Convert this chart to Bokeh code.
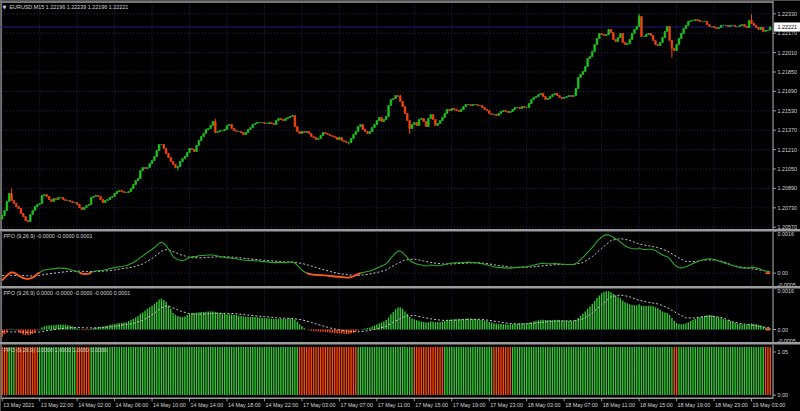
import numpy as np
from bokeh.plotting import figure
from bokeh.models import Range1d, Label, ColumnDataSource
from bokeh.layouts import column
from bokeh.embed import file_html
from bokeh.resources import INLINE
from bokeh.core.properties import value

try:
    from bokeh.models import GlobalInlineStyleSheet
except Exception:
    GlobalInlineStyleSheet = None

# ---------------- data ----------------
symbol_title = "EURUSD,M15  1.22196 1.22239 1.22196 1.22221"
ppo_title2 = "PPO (9,26,9) -0.0000 -0.0000 0.0001"
ppo_title3 = "PPO (9,26,9) 0.0000 -0.0000 -0.0000 -0.0000 0.0001"
ppo_title4 = "PPO (9,26,9) 0.0000 1.0000 1.0000 0.0000"
bid_price = 1.22221

time_labels = ["13 May 2021", "13 May 22:00", "14 May 02:00", "14 May 06:00", "14 May 10:00",
               "14 May 14:00", "14 May 18:00", "14 May 22:00", "17 May 03:00", "17 May 07:00",
               "17 May 11:00", "17 May 15:00", "17 May 19:00", "17 May 23:00", "18 May 03:00",
               "18 May 07:00", "18 May 11:00", "18 May 15:00", "18 May 19:00", "18 May 23:00",
               "19 May 03:00"]
time_label_bars = [0, 16, 32, 48, 64, 80, 96, 112, 128, 144, 160, 176, 192, 208, 224,
                   240, 256, 272, 288, 304, 320]

price_ticks = [1.20570, 1.20730, 1.20890, 1.21050, 1.21210, 1.21370, 1.21530,
               1.21690, 1.21850, 1.22010, 1.22170, 1.22330]
ppo_ticks = [0.0016, 0.0, -0.0005]
ppo_tick_labels = ["0.0016", "0.00", "-0.0005"]
state_ticks = [1.05, 0.0]
state_tick_labels = ["1.05", "0.00"]

first_open = 1.20640
closes = [
    1.20666, 1.20707, 1.20782, 1.20848, 1.20790, 1.20765, 1.20740, 1.20724, 1.20683, 1.20658,
    1.20625, 1.20617, 1.20674, 1.20707, 1.20740, 1.20757, 1.20765, 1.20831, 1.20839, 1.20823,
    1.20798, 1.20782, 1.20806, 1.20798, 1.20815, 1.20815, 1.20798, 1.20790, 1.20790, 1.20782,
    1.20773, 1.20773, 1.20757, 1.20732, 1.20716, 1.20732, 1.20749, 1.20757, 1.20815, 1.20823,
    1.20831, 1.20823, 1.20798, 1.20773, 1.20790, 1.20798, 1.20815, 1.20823, 1.20848, 1.20864,
    1.20872, 1.20864, 1.20856, 1.20856, 1.20864, 1.20889, 1.20922, 1.20955, 1.20971, 1.21037,
    1.21062, 1.21054, 1.21062, 1.21095, 1.21120, 1.21153, 1.21202, 1.21252, 1.21252, 1.21219,
    1.21178, 1.21145, 1.21112, 1.21087, 1.21062, 1.21070, 1.21112, 1.21136, 1.21153, 1.21186,
    1.21219, 1.21211, 1.21194, 1.21244, 1.21285, 1.21318,
    1.21343, 1.21376, 1.21384, 1.21409, 1.21442, 1.21351, 1.21359, 1.21367, 1.21367, 1.21376,
    1.21409, 1.21417, 1.21384, 1.21367, 1.21359, 1.21359, 1.21351, 1.21334, 1.21351, 1.21376,
    1.21392, 1.21417, 1.21425, 1.21433, 1.21433, 1.21433, 1.21425, 1.21425, 1.21433, 1.21425,
    1.21417, 1.21450, 1.21466, 1.21458, 1.21450, 1.21466, 1.21475, 1.21483, 1.21491, 1.21400,
    1.21359, 1.21343, 1.21359, 1.21351, 1.21359, 1.21343, 1.21318, 1.21310, 1.21293, 1.21301,
    1.21326, 1.21351, 1.21343, 1.21334, 1.21326, 1.21318, 1.21310, 1.21293, 1.21310, 1.21285,
    1.21277, 1.21268, 1.21268, 1.21301, 1.21334, 1.21359, 1.21400, 1.21417, 1.21376, 1.21359,
    1.21343, 1.21359, 1.21392, 1.21417, 1.21450, 1.21475, 1.21442, 1.21458, 1.21483, 1.21574,
    1.21623, 1.21631, 1.21656, 1.21648, 1.21607, 1.21565, 1.21508, 1.21450, 1.21384, 1.21417,
    1.21433, 1.21409, 1.21458, 1.21466, 1.21442, 1.21400, 1.21466, 1.21499, 1.21458, 1.21409,
    1.21425, 1.21450, 1.21475, 1.21508, 1.21541, 1.21532, 1.21549, 1.21541, 1.21532, 1.21524,
    1.21541, 1.21565, 1.21582, 1.21582, 1.21574, 1.21582, 1.21582, 1.21574, 1.21574, 1.21557,
    1.21541, 1.21532, 1.21508, 1.21499, 1.21499, 1.21491, 1.21508, 1.21524, 1.21532, 1.21524,
    1.21516, 1.21524, 1.21541, 1.21557, 1.21557, 1.21549, 1.21565, 1.21557, 1.21557, 1.21590,
    1.21623, 1.21640, 1.21648, 1.21664, 1.21673, 1.21648, 1.21623, 1.21631, 1.21648, 1.21664,
    1.21673, 1.21656, 1.21640, 1.21631, 1.21640, 1.21648, 1.21656, 1.21648, 1.21656, 1.21714,
    1.21805,
    1.21830, 1.21854, 1.21895, 1.21961, 1.21978, 1.22019, 1.22077, 1.22126, 1.22168, 1.22159,
    1.22151, 1.22159, 1.22201, 1.22176, 1.22118, 1.22102, 1.22135, 1.22168, 1.22093, 1.22077,
    1.22085, 1.22118, 1.22168, 1.22201, 1.22225, 1.22308, 1.22143, 1.22143, 1.22159, 1.22168,
    1.22151, 1.22110, 1.22077, 1.22069, 1.22093, 1.22135, 1.22184, 1.22225, 1.22110, 1.22044,
    1.22027, 1.22077, 1.22126, 1.22168, 1.22209, 1.22234, 1.22267, 1.22275, 1.22275, 1.22283,
    1.22275, 1.22267, 1.22267, 1.22267, 1.22242, 1.22225, 1.22225, 1.22217, 1.22209, 1.22217,
    1.22234, 1.22234, 1.22234, 1.22225, 1.22234, 1.22234, 1.22225, 1.22225, 1.22234, 1.22242,
    1.22225, 1.22217, 1.22275, 1.22250, 1.22234, 1.22217, 1.22201, 1.22217, 1.22184, 1.22192,
    1.22196, 1.22221,
]
# notable wick extremes (bar index -> price)
wick_highs = {4: 1.20889, 91: 1.21466, 272: 1.22330, 320: 1.22325, 170: 1.21664}
wick_lows = {11: 1.20609, 75: 1.21037, 174: 1.21340, 286: 1.21970, 148: 1.21252}

# PPO(9,26,9) main value per bar, in units of 1e-5
ppo_x1e5 = [
    -28, -17, -9, -2, 3, 2, -3, -9, -15, -19,
    -21, -22, -20, -17, -11, -3, 2, 8, 12, 14,
    15, 16, 16, 18, 19, 19, 18, 18, 16, 14,
    11, 8, 5, 2, -2, -3, -3, -2, 2, 6,
    8, 9, 10, 11, 13, 15, 18, 19, 21, 23,
    24, 25, 27, 28, 32, 37, 40, 46, 52, 60,
    65, 72, 79, 85, 91, 98, 105, 115, 118, 113,
    105, 92, 79, 63, 56, 52, 49, 48, 50, 55,
    60, 62, 63, 64, 66, 67, 67, 68, 69, 69,
    69, 67, 65, 63, 62, 60, 58, 58, 57, 56,
    55, 53, 52, 50, 49, 48, 48, 48, 47, 47,
    45, 44, 44, 43, 42, 41, 40, 40, 41, 41,
    40, 40, 41, 42, 42, 38, 30, 20, 12, 5,
    0, -3, -5, -6, -7, -8, -8, -9, -9, -10,
    -11, -12, -13, -14, -14, -15, -16, -17, -17, -15,
    -12, -8, -4, 0, 2, 4, 6, 8, 11, 15,
    19, 23, 27, 31, 36, 46, 58, 67, 77, 84,
    84, 79, 69, 60, 48, 42, 39, 35, 33, 31,
    29, 27, 28, 31, 30, 28, 28, 29, 31, 33,
    35, 37, 38, 39, 39, 39, 40, 40, 41, 42,
    41, 40, 40, 39, 37, 36, 34, 32, 29, 27,
    24, 23, 21, 21, 20, 20, 19, 19, 20, 21,
    22, 23, 23, 24, 24, 26, 28, 31, 33, 35,
    37, 37, 36, 36, 36, 36, 37, 36, 36, 34,
    34, 33, 33, 33, 33, 37, 44, 52, 60, 69,
    79, 88, 98, 109, 121, 130, 138, 144, 146, 146,
    142, 136, 130, 125, 119, 111, 104, 100, 96, 94,
    93, 92, 96, 92, 90, 90, 91, 91, 89, 85,
    81, 75, 69, 65, 63, 56, 44, 33, 25, 21,
    20, 21, 24, 28, 32, 37, 40, 44, 47, 50,
    52, 54, 55, 54, 52, 49, 46, 43, 40, 37,
    35, 32, 29, 26, 23, 21, 20, 19, 19, 20,
    23, 22, 20, 18, 15, 11, 8, 6, 5,
]
# signal line read at sampled bars, in units of 1e-5
sig_bars = [0, 4, 8, 12, 16, 20, 24, 28, 32, 36, 40, 44, 48, 52, 56, 60, 64, 68, 70, 72,
            76, 80, 84, 88, 92, 96, 100, 104, 108, 112, 116, 120, 124, 128, 132, 136, 140,
            144, 148, 152, 156, 160, 164, 168, 172, 176, 180, 184, 188, 192, 196, 200, 204,
            208, 212, 216, 220, 224, 228, 232, 236, 240, 244, 248, 252, 256, 260, 264, 268,
            272, 276, 280, 284, 288, 292, 296, 300, 304, 308, 312, 316, 320, 324, 328]
sig_x1e5 = [-9, -9, -9, -11, -9, -3, 2, 6, 8, 6, 6, 8, 12, 18, 23, 35, 56, 83, 90, 86,
            71, 60, 58, 60, 62, 62, 60, 56, 52, 49, 46, 43, 42, 37, 27, 16, 6,
            -2, -7, -9, -5, 2, 12, 33, 50, 54, 46, 39, 35, 35, 37, 39, 39,
            35, 29, 24, 21, 22, 25, 29, 32, 33, 33, 40, 63, 94, 125, 132, 125,
            111, 104, 98, 84, 63, 44, 44, 50, 50, 44, 29, 22, 17, 11, 6]
# bars at the right end where the down buffer sits on the zero line
zero_down_bars = [326, 327, 328]

# bottom panel: runs of bars shown in red (first bar, last bar)
red_runs = [(0, 2), (6, 15), (32, 37), (127, 151), (176, 188), (210, 217), (287, 288), (326, 328)]

# ---------------- styling / layout ----------------
FONT = "Liberation Sans"
FS = "5.4px"
TXT = "#d4d4d4"
GRID = "#2a2a5c"
FRAME = "#9c9c9c"
BULL = "#1fc41f"
BEAR = "#f2460f"
BAR_G = "#35c835"
BAR_R = "#ff4a0a"
PPO_G = "#2aa82a"
PPO_R = "#ff5a1a"
SIG = "#c8c8c8"

BAR_PX = 2.3416           # pixels per bar
PX = 1.0 / BAR_PX         # one pixel in bar units
X0 = -1.7 * PX
X_END = X0 + 800 * PX
X_EDGE = X0 + 772.5 * PX  # right edge of the chart area
X_LEFT = X0 + 0.6 * PX
xr = Range1d(X0, X_END)

N = len(closes)
xs = list(range(N))
opens = [first_open] + closes[:-1]
highs = [max(o, c) for o, c in zip(opens, closes)]
lows = [min(o, c) for o, c in zip(opens, closes)]
for k, v in wick_highs.items():
    highs[k] = max(highs[k], v)
for k, v in wick_lows.items():
    lows[k] = min(lows[k], v)
ccol = [BULL if c >= o else BEAR for o, c in zip(opens, closes)]

ppo = [v * 1e-5 for v in ppo_x1e5]
sig = [v * 1e-5 for v in sig_x1e5]


def make_fig(h, ylo, yhi):
    p = figure(width=800, height=h, x_range=xr, y_range=Range1d(ylo, yhi),
               output_backend="svg", toolbar_location=None,
               x_axis_location=None, y_axis_location=None,
               min_border=0, min_border_left=0, min_border_right=0,
               min_border_top=0, min_border_bottom=0,
               background_fill_color="black", border_fill_color="black",
               outline_line_color=None)
    p.grid.visible = False
    return p


def frame_and_grid(p, lo, hi, hticks):
    p.segment(x0=time_label_bars, x1=time_label_bars, y0=[lo] * len(time_label_bars),
              y1=[hi] * len(time_label_bars), line_color=GRID, line_dash="1 2", line_width=1)
    if hticks:
        p.segment(x0=[X_LEFT] * len(hticks), x1=[X_EDGE] * len(hticks), y0=hticks, y1=hticks,
                  line_color=GRID, line_dash="1 2", line_width=1)
    p.segment(x0=[X_LEFT, X_EDGE], x1=[X_LEFT, X_EDGE], y0=[lo, lo], y1=[hi, hi],
              line_color=FRAME, line_width=1.2)


def right_labels(p, ticks, labels, baselines=None):
    p.segment(x0=[X_EDGE] * len(ticks), x1=[X_EDGE + 3 * PX] * len(ticks), y0=ticks, y1=ticks,
              line_color=FRAME, line_width=1)
    src = ColumnDataSource(dict(x=[X_EDGE + 4.5 * PX] * len(ticks), y=ticks, t=labels,
                                b=baselines or ["middle"] * len(ticks)))
    p.text(x="x", y="y", text="t", text_baseline="b", text_align="left",
           text_font=value(FONT), text_font_size=value(FS), text_color=TXT, source=src)


def title_label(p, yv, text, dy, dx=3):
    p.add_layout(Label(x=X0, y=yv, x_offset=dx, y_offset=dy, text=text,
                       text_font=FONT, text_font_size=FS, text_color=TXT,
                       text_baseline="middle", text_align="left"))


# ---------------- main price panel ----------------
P_PER_PX = 0.0016 / 19.4
P_HI = 1.22330 + 13.3 * P_PER_PX
P_LO = P_HI - 229 * P_PER_PX
p1 = make_fig(229, P_LO, P_HI)
frame_and_grid(p1, P_LO, P_HI, price_ticks)
p1.segment(x0=[X_LEFT], x1=[X_EDGE], y0=[P_HI - 1.5 * P_PER_PX], y1=[P_HI - 1.5 * P_PER_PX],
           line_color=FRAME, line_width=1.5)
p1.segment(x0=[X_LEFT], x1=[X_EDGE], y0=[bid_price], y1=[bid_price], line_color="#1e1e7a",
           line_width=1)
src = ColumnDataSource(dict(x=xs, top=[max(o, c) for o, c in zip(opens, closes)],
                            bot=[min(o, c) for o, c in zip(opens, closes)],
                            hi=highs, lo=lows, col=ccol))
p1.segment(x0="x", y0="lo", x1="x", y1="hi", color="col", line_width=1, source=src)
p1.vbar(x="x", top="top", bottom="bot", width=0.72, fill_color="col", line_color="col",
        line_width=0.6, source=src)
right_labels(p1, price_ticks, [f"{t:.5f}" for t in price_ticks])
# current price box
p1.rect(x=[X_EDGE + 14.5 * PX], y=[bid_price], width=27, height=9, width_units="screen",
        height_units="screen", fill_color="white", line_color="#9a9a9a", line_width=0.5)
p1.text(x=[X_EDGE + 4.5 * PX], y=[bid_price], text=[f"{bid_price:.5f}"], text_baseline="middle",
        text_align="left", text_font=value(FONT), text_font_size=value(FS), text_color="black")
p1.add_layout(Label(x=X0, y=P_HI, x_offset=2, y_offset=-6, text="\u25bc",
                    text_font="DejaVu Sans", text_font_size="5px", text_color=TXT,
                    text_baseline="middle", text_align="left"))
title_label(p1, P_HI, symbol_title, -6, dx=9)

# ---------------- PPO line panel ----------------
Q_PER_PX = 0.0000382
Q2_HI = 41.6 * Q_PER_PX
Q2_LO = -(55 - 41.6) * Q_PER_PX
p2 = make_fig(55, Q2_LO, Q2_HI)
frame_and_grid(p2, Q2_LO, Q2_HI, [0.0])
pv = np.array(ppo)
neg_mask = pv < 0
grow = np.zeros(N, dtype=bool)
for i in range(N):
    if neg_mask[i] or (i > 0 and neg_mask[i - 1]) or (i < N - 1 and neg_mask[i + 1]):
        grow[i] = True
neg_line = np.where(grow, pv, np.nan)
p2.line(sig_bars, sig, line_color=SIG, line_width=1, line_dash="2 2")
p2.line(xs, ppo, line_color=PPO_G, line_width=1.1)
p2.line(xs, neg_line.tolist(), line_color=PPO_R, line_width=1.8)
p2.line(zero_down_bars, [0.0] * len(zero_down_bars), line_color=PPO_R, line_width=1.8)
right_labels(p2, [Q2_HI, 0.0, Q2_LO], ppo_tick_labels, ["top", "middle", "bottom"])
title_label(p2, Q2_HI, ppo_title2, -4)

# ---------------- PPO histogram panel ----------------
Q3_HI = 41 * Q_PER_PX
Q3_LO = -(54 - 41) * Q_PER_PX
p3 = make_fig(54, Q3_LO, Q3_HI)
frame_and_grid(p3, Q3_LO, Q3_HI, [0.0])
hcol = [BAR_G if v >= 0 else BAR_R for v in ppo]
p3.vbar(x=xs, top=ppo, bottom=[0.0] * N, width=0.6, fill_color=hcol, line_color=None)
p3.line(zero_down_bars, [0.0] * len(zero_down_bars), line_color=PPO_R, line_width=1.8)
p3.line(sig_bars, sig, line_color=SIG, line_width=1, line_dash="2 2")
right_labels(p3, [Q3_HI, 0.0, Q3_LO], ppo_tick_labels, ["top", "middle", "bottom"])
title_label(p3, Q3_HI, ppo_title3, -4)

# ---------------- state bars panel + time axis ----------------
S_PER_PX = 1.0 / 48.2
S_HI = 1.0 + 2.4 * S_PER_PX
S_LO = S_HI - 67 * S_PER_PX
S_FRAME_LO = S_HI - 53.8 * S_PER_PX
p4 = make_fig(67, S_LO, S_HI)
state_col = [BAR_G] * N
for a, b in red_runs:
    for i in range(a, b + 1):
        state_col[i] = BAR_R
frame_and_grid(p4, S_FRAME_LO, S_HI, [])
p4.vbar(x=xs, top=[1.0] * N, bottom=[0.0] * N, width=0.6, fill_color=state_col,
        line_color=None)
p4.segment(x0=[X_LEFT], x1=[X_EDGE], y0=[S_FRAME_LO], y1=[S_FRAME_LO], line_color=FRAME,
           line_width=1.5)
right_labels(p4, [S_HI - 7.5 * S_PER_PX, 0.0], state_tick_labels)
title_label(p4, S_HI, ppo_title4, -5)
# time axis ticks and labels
nt = len(time_label_bars)
p4.segment(x0=time_label_bars, x1=time_label_bars, y0=[S_FRAME_LO] * nt,
           y1=[S_FRAME_LO - 3 * S_PER_PX] * nt, line_color=FRAME, line_width=1)
p4.text(x=time_label_bars, y=[S_FRAME_LO - 6.5 * S_PER_PX] * nt, text=time_labels,
        x_offset=1, text_baseline="middle", text_align="left", text_font=value(FONT),
        text_font_size=value(FS), text_color=TXT)

layout = column(p1, p2, p3, p4, spacing=2, styles={"background-color": FRAME})
if GlobalInlineStyleSheet is not None:
    layout.stylesheets = [GlobalInlineStyleSheet(
        css="html, body { margin: 0 !important; padding: 0; background: #000; overflow: hidden; }")]

open("out.html", "w").write(file_html(layout, INLINE))
